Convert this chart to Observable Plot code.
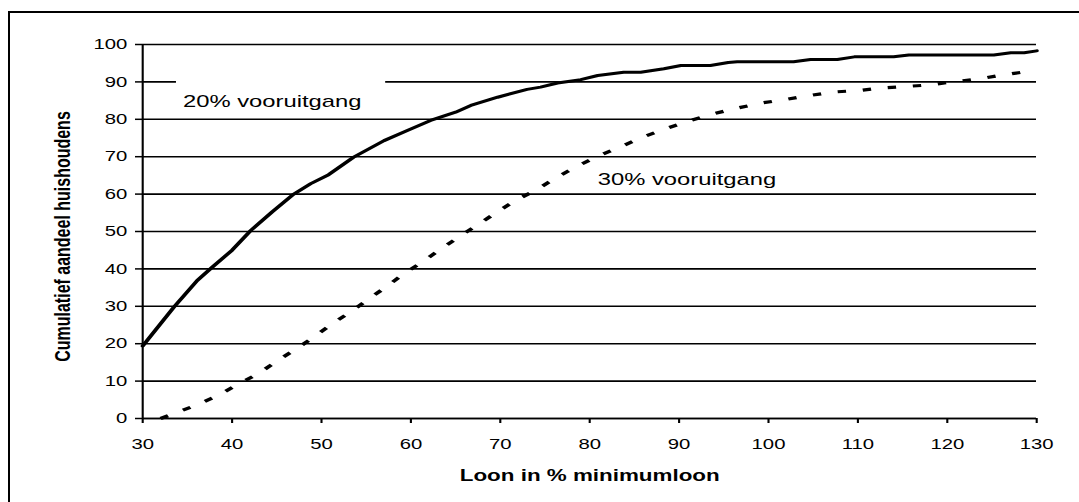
<!DOCTYPE html>
<html>
<head>
<meta charset="utf-8">
<script src="https://cdn.jsdelivr.net/npm/d3@7"></script>
<script src="https://cdn.jsdelivr.net/npm/@observablehq/plot@0.6"></script>
<style>
  html, body { margin: 0; padding: 0; background: #fff; overflow: hidden; }
  #wrap { position: relative; width: 1079px; height: 502px; }
  #frame { position: absolute; left: 8px; top: 11px; right: -4px; bottom: -4px;
           border-top: 2px solid #000; border-left: 2px solid #000; pointer-events: none; }
  #chart { position: absolute; left: 0; top: 0; }
</style>
</head>
<body>
<div id="wrap"><div id="chart"></div><div id="frame"></div></div>
<script>
// ---- data ----
const xTicks = [30, 40, 50, 60, 70, 80, 90, 100, 110, 120, 130];
const yTicks = [0, 10, 20, 30, 40, 50, 60, 70, 80, 90, 100];

// 20% vooruitgang (solid)
const xSolid = [30, 33.5, 36.1, 37.8, 40, 42.1, 44.5, 46.9, 48.8, 50.8, 53.6, 57, 59.6, 62.2, 65, 66.7, 69.7, 73, 74.5, 76.4, 79, 80.9, 83.8, 85.7, 88.3, 90.2, 93.5, 95.5, 96.5, 102.8, 104.7, 107.7, 109.6, 114, 115.7, 125.2, 127.1, 128.6, 130];
const ySolid = [19.4, 29.8, 36.9, 40.5, 45, 50.3, 55.3, 60, 62.8, 65.2, 69.9, 74.3, 77, 79.7, 81.9, 83.7, 85.9, 88, 88.6, 89.7, 90.6, 91.7, 92.6, 92.6, 93.5, 94.4, 94.4, 95.2, 95.4, 95.4, 96.0, 96.0, 96.7, 96.7, 97.2, 97.2, 97.8, 97.8, 98.3];

// 30% vooruitgang (dashed)
const xDash = [32, 35.7, 38.4, 40.6, 43, 45.1, 47.3, 49.4, 51.3, 53.5, 55.3, 57.3, 59.2, 61.5, 63.1, 65.2, 67.6, 69.5, 71.7, 74, 76.2, 78.4, 80.7, 83.3, 85.9, 88.5, 91.3, 93.9, 96.5, 99.3, 101.9, 104.7, 107.3, 110.1, 112.8, 115.5, 118.1, 120.9, 123.5, 126.3, 129, 130];
const yDash = [0, 3.3, 6.1, 9.1, 12.1, 15.5, 18.8, 22.2, 25.5, 28.9, 32, 35.3, 38.7, 42.2, 44.9, 48.3, 52, 55, 58.3, 61.1, 64.3, 67.2, 69.9, 72.5, 75.2, 77.5, 79.7, 81.5, 83, 84.4, 85.3, 86.4, 87.3, 87.7, 88.4, 88.8, 89.2, 90.1, 90.8, 91.9, 92.8, 93];

// series labels (placed in data units)
const seriesLabels = ["20% vooruitgang", "30% vooruitgang"];
const labelX = [34.5, 80.9];
const labelY = [83.2, 62.5];
// white box behind first label (data units)
const boxX1 = [33.8], boxX2 = [57.2], boxY1 = [85], boxY2 = [92];

const xTitle = "Loon in % minimumloon";
const yTitle = "Cumulatief aandeel huishoudens";

// ---- build ----
const solid = xSolid.map((x, i) => ({x, y: ySolid[i]}));
const dashed = xDash.map((x, i) => ({x, y: yDash[i]}));
const labels = seriesLabels.map((t, i) => ({t, x: labelX[i], y: labelY[i]}));
const boxes = boxX1.map((x1, i) => ({x1, x2: boxX2[i], y1: boxY1[i], y2: boxY2[i]}));

const STRETCH = 1.4;
const W = 1079, H = 502;
const IW = W / STRETCH;

const plot = Plot.plot({
  width: IW,
  height: H,
  marginLeft: 142 / STRETCH,
  marginRight: (W - 1036) / STRETCH,
  marginTop: 44,
  marginBottom: 84,
  style: {fontFamily: "'Liberation Sans', Arial, sans-serif", fontSize: "14.5px", color: "black", background: "transparent", overflow: "visible"},
  x: {domain: [30, 130]},
  y: {domain: [0, 100]},
  marks: [
    Plot.gridY(yTicks, {stroke: "black", strokeOpacity: 1, strokeWidth: 1.6}),
    Plot.rect(boxes, {x1: "x1", x2: "x2", y1: "y1", y2: "y2", fill: "white"}),
    Plot.ruleX([30], {stroke: "black", strokeWidth: 1.5}),
    Plot.ruleY([0], {stroke: "black", strokeWidth: 1.6}),
    Plot.axisY({ticks: yTicks, tickSize: 5, tickPadding: 6, label: null, stroke: "black", strokeWidth: 1.5, fill: "black"}),
    Plot.axisX({ticks: xTicks, tickSize: 5, tickPadding: 15, label: null, stroke: "black", strokeWidth: 1.5, fill: "black"}),
    Plot.line(dashed, {x: "x", y: "y", stroke: "black", strokeWidth: 3.2, strokeDasharray: "6,12", strokeLinecap: "butt"}),
    Plot.line(solid, {x: "x", y: "y", stroke: "black", strokeWidth: 3, strokeLinejoin: "round"}),
    Plot.text(labels, {x: "x", y: "y", text: "t", textAnchor: "start", lineAnchor: "bottom", fontSize: 17, fill: "black"}),
    Plot.text([yTitle], {frameAnchor: "left", textAnchor: "middle", rotate: -90, dx: -57, dy: 5, fontWeight: "bold", fontSize: 16, fill: "black"}),
    Plot.text([xTitle], {frameAnchor: "bottom", textAnchor: "middle", dy: 62, lineAnchor: "bottom", fontWeight: "bold", fontSize: 16, fill: "black"})
  ]
});

plot.setAttribute("preserveAspectRatio", "none");
plot.setAttribute("viewBox", `0 0 ${IW} ${H}`);
plot.style.width = W + "px";
plot.style.height = H + "px";
plot.style.maxWidth = "none";
document.getElementById("chart").appendChild(plot);
</script>
</body>
</html>
